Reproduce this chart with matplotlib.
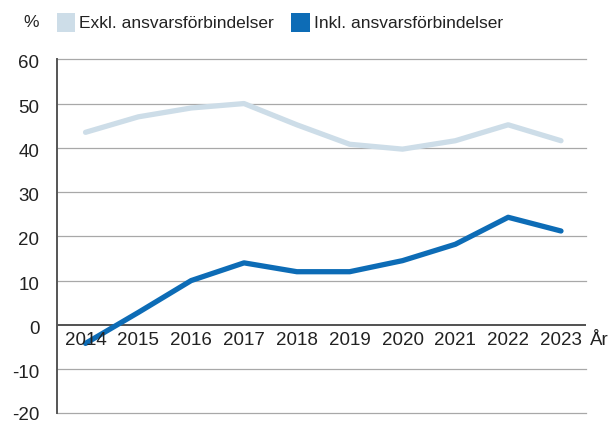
import matplotlib
matplotlib.use("Agg")
import matplotlib.pyplot as plt
import matplotlib.transforms as mtransforms
from matplotlib.patches import Patch

years = [2014, 2015, 2016, 2017, 2018, 2019, 2020, 2021, 2022, 2023]
exkl = [43.5, 47.0, 49.0, 50.0, 45.2, 40.8, 39.7, 41.6, 45.2, 41.6]
inkl = [-4.2, 2.8, 10.0, 14.0, 12.0, 12.0, 14.5, 18.2, 24.3, 21.2]
yticks = [-20, -10, 0, 10, 20, 30, 40, 50, 60]
series_labels = ["Exkl. ansvarsförbindelser", "Inkl. ansvarsförbindelser"]

c_light = "#cddde8"
c_dark = "#0d6cb6"
txt = "#222222"
FONT = "Liberation Sans"

fig = plt.figure(figsize=(6.13, 4.23), dpi=100)
ax = fig.add_axes([0.0935, 0.0229, 0.9555 - 0.0935, 0.8598 - 0.0229])

for y in yticks:
    if y == 0:
        continue
    ax.axhline(y, color="#a8a8a8", lw=0.9, zorder=1, clip_on=False)
ax.axhline(0, color="#333333", lw=1.2, zorder=2)

ax.plot(years, exkl, color=c_light, lw=3.8, solid_capstyle="round",
        solid_joinstyle="round", zorder=3)
ax.plot(years, inkl, color=c_dark, lw=3.8, solid_capstyle="round",
        solid_joinstyle="round", zorder=4)

ax.set_xlim(years[0] - 0.534, years[-1] + 0.468)
ax.set_ylim(yticks[0], yticks[-1])
ax.set_yticks(yticks)
ax.set_yticklabels([str(v) for v in yticks], fontfamily=FONT, fontsize=13.5,
                   color=txt)
ax.tick_params(axis="y", length=0, pad=13)
ax.set_xticks([])
off = mtransforms.ScaledTranslation(0, -1.8 / 72, fig.dpi_scale_trans)
for v, lab in zip(yticks, ax.get_yticklabels()):
    if v == yticks[0]:
        continue
    lab.set_transform(lab.get_transform() + off)

for s in ["top", "right", "bottom"]:
    ax.spines[s].set_visible(False)
ax.spines["left"].set_color("#555555")
ax.spines["left"].set_linewidth(1.4)
ax.spines["left"].set_zorder(6)

for yr in years:
    ax.annotate(str(yr), xy=(yr, 0), xytext=(0, -5), textcoords="offset points",
                ha="center", va="top", fontfamily=FONT, fontsize=13.5,
                color=txt, zorder=5)
ax.annotate("År", xy=(1, 0), xycoords=("axes fraction", "data"),
            xytext=(3, -5), textcoords="offset points", ha="left", va="top",
            fontfamily=FONT, fontsize=13.5, color=txt, annotation_clip=False)

fig.text(38.5 / 613, 1 - 22.5 / 423, "%", ha="right", va="center",
         fontfamily=FONT, fontsize=12.5, color=txt)

handles = [Patch(facecolor=c_light, edgecolor="none"),
           Patch(facecolor=c_dark, edgecolor="none")]
fig.legend(handles, series_labels, loc="center left",
           bbox_to_anchor=(56.7 / 613, 1 - 22.5 / 423), ncol=2, frameon=False,
           prop={"family": FONT, "size": 12.5}, labelcolor=txt,
           handlelength=1.05, handleheight=1.25, handletextpad=0.25,
           columnspacing=1.0, borderpad=0, borderaxespad=0)

fig.savefig("out.png", dpi=100)
